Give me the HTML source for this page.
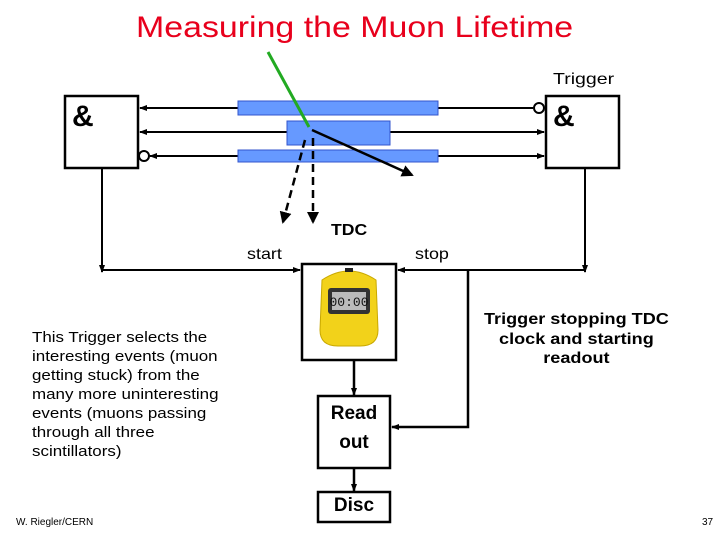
<!DOCTYPE html>
<html><head><style>
body{margin:0;width:720px;height:540px;background:#fff;overflow:hidden;position:relative;font-family:"Liberation Sans",sans-serif}
.t{position:absolute;white-space:nowrap;transform-origin:left top}
</style></head><body>
<svg width="720" height="540" style="position:absolute;left:0;top:0">
<defs><marker id="a" markerWidth="8" markerHeight="8" refX="7" refY="4" orient="auto" markerUnits="userSpaceOnUse"><path d="M0,1 L8,4 L0,7z" fill="#000"/></marker>
<marker id="b" markerWidth="12" markerHeight="12" refX="10" refY="6" orient="auto" markerUnits="userSpaceOnUse"><path d="M0,0 L12,6 L0,12z" fill="#000"/></marker></defs>
<g stroke="#000" stroke-width="2.5" fill="none">
<rect x="65" y="96" width="73" height="72" fill="#fff"/>
<rect x="546" y="96" width="73" height="72" fill="#fff"/>
<line x1="238" y1="108" x2="140" y2="108" marker-end="url(#a)" stroke-width="2"/>
<line x1="287" y1="132" x2="140" y2="132" marker-end="url(#a)" stroke-width="2"/>
<line x1="238" y1="156" x2="150" y2="156" marker-end="url(#a)" stroke-width="2"/>
<line x1="438" y1="108" x2="533" y2="108" stroke-width="2"/>
<line x1="390" y1="132" x2="544" y2="132" marker-end="url(#a)" stroke-width="2"/>
<line x1="438" y1="156" x2="544" y2="156" marker-end="url(#a)" stroke-width="2"/>
<circle cx="539" cy="108" r="5" fill="#fff" stroke-width="2"/>
<circle cx="144" cy="156" r="5" fill="#fff" stroke-width="2"/>
<polyline points="102,168 102,272" marker-end="url(#a)" stroke-width="2"/>
<polyline points="102,270 300,270" marker-end="url(#a)" stroke-width="2"/>
<polyline points="585,168 585,272" marker-end="url(#a)" stroke-width="2"/>
<polyline points="585,270 398,270" marker-end="url(#a)" stroke-width="2"/>
<polyline points="468,270 468,427 392,427" marker-end="url(#a)"/>
<rect x="302" y="264" width="94" height="96" fill="#fff"/>
<line x1="354" y1="360" x2="354" y2="395" marker-end="url(#a)"/>
<rect x="318" y="396" width="72" height="72" fill="#fff"/>
<line x1="354" y1="468" x2="354" y2="491" marker-end="url(#a)"/>
<rect x="318" y="492" width="72" height="30" fill="#fff"/>
</g>
<rect x="238" y="101" width="200" height="14" fill="#6699ff" stroke="#3355cc"/>
<rect x="287" y="121" width="103" height="24" fill="#6699ff" stroke="#3355cc"/>
<rect x="238" y="150" width="200" height="12" fill="#6699ff" stroke="#3355cc"/>
<line x1="268" y1="52" x2="309" y2="127" stroke="#22aa22" stroke-width="3"/>
<line x1="312" y1="130" x2="412" y2="175" stroke="#000" stroke-width="2.5" marker-end="url(#b)"/>
<line x1="305" y1="140" x2="283" y2="222" stroke="#000" stroke-width="2.5" stroke-dasharray="8,5" marker-end="url(#b)"/>
<line x1="313" y1="138" x2="313" y2="222" stroke="#000" stroke-width="2.5" stroke-dasharray="8,5" marker-end="url(#b)"/>
<g>
<path d="M322,280 Q349,262 376,280 L378,330 Q378,346 360,346 L338,346 Q320,346 320,330Z" fill="#f2d21a" stroke="#c9a800"/>
<rect x="328" y="288" width="42" height="26" rx="3" fill="#333"/>
<rect x="332" y="292" width="34" height="18" fill="#bbb"/>
<text x="349" y="306" font-size="13" text-anchor="middle" font-family="Liberation Mono" fill="#111">00:00</text>
<rect x="345" y="268" width="8" height="4" fill="#222"/>
</g>
</svg>
<div class="t" style="left:136px;top:11px;font-size:30px;color:#e8001c;transform:scaleX(1.13)">Measuring the Muon Lifetime</div>
<div class="t" style="left:553px;top:71px;font-size:16px;transform:scaleX(1.22)">Trigger</div>
<div class="t" style="left:72px;top:100px;font-size:30px;font-weight:bold">&amp;</div>
<div class="t" style="left:553px;top:100px;font-size:30px;font-weight:bold">&amp;</div>
<div class="t" style="left:331px;top:222px;font-size:16px;font-weight:bold;transform:scaleX(1.1)">TDC</div>
<div class="t" style="left:247px;top:246px;font-size:16px;transform:scaleX(1.12)">start</div>
<div class="t" style="left:415px;top:246px;font-size:16px;transform:scaleX(1.12)">stop</div>
<div class="t" style="left:484px;top:310px;font-size:16px;font-weight:bold;text-align:center;line-height:19.5px;transform:scaleX(1.13)">Trigger stopping TDC<br>clock and starting<br>readout</div>
<div class="t" style="left:32px;top:328px;font-size:15px;line-height:19px;transform:scaleX(1.13)">This Trigger selects the<br>interesting events (muon<br>getting stuck) from the<br>many more uninteresting<br>events (muons passing<br>through all three<br>scintillators)</div>
<div class="t" style="left:318px;top:399px;width:72px;text-align:center;font-size:19px;font-weight:bold;line-height:29px">Read<br>out</div>
<div class="t" style="left:318px;top:495px;width:72px;text-align:center;font-size:19px;font-weight:bold">Disc</div>
<div class="t" style="left:16px;top:517px;font-size:10px">W. Riegler/CERN</div>
<div class="t" style="left:702px;top:517px;font-size:10px">37</div>
</body></html>
